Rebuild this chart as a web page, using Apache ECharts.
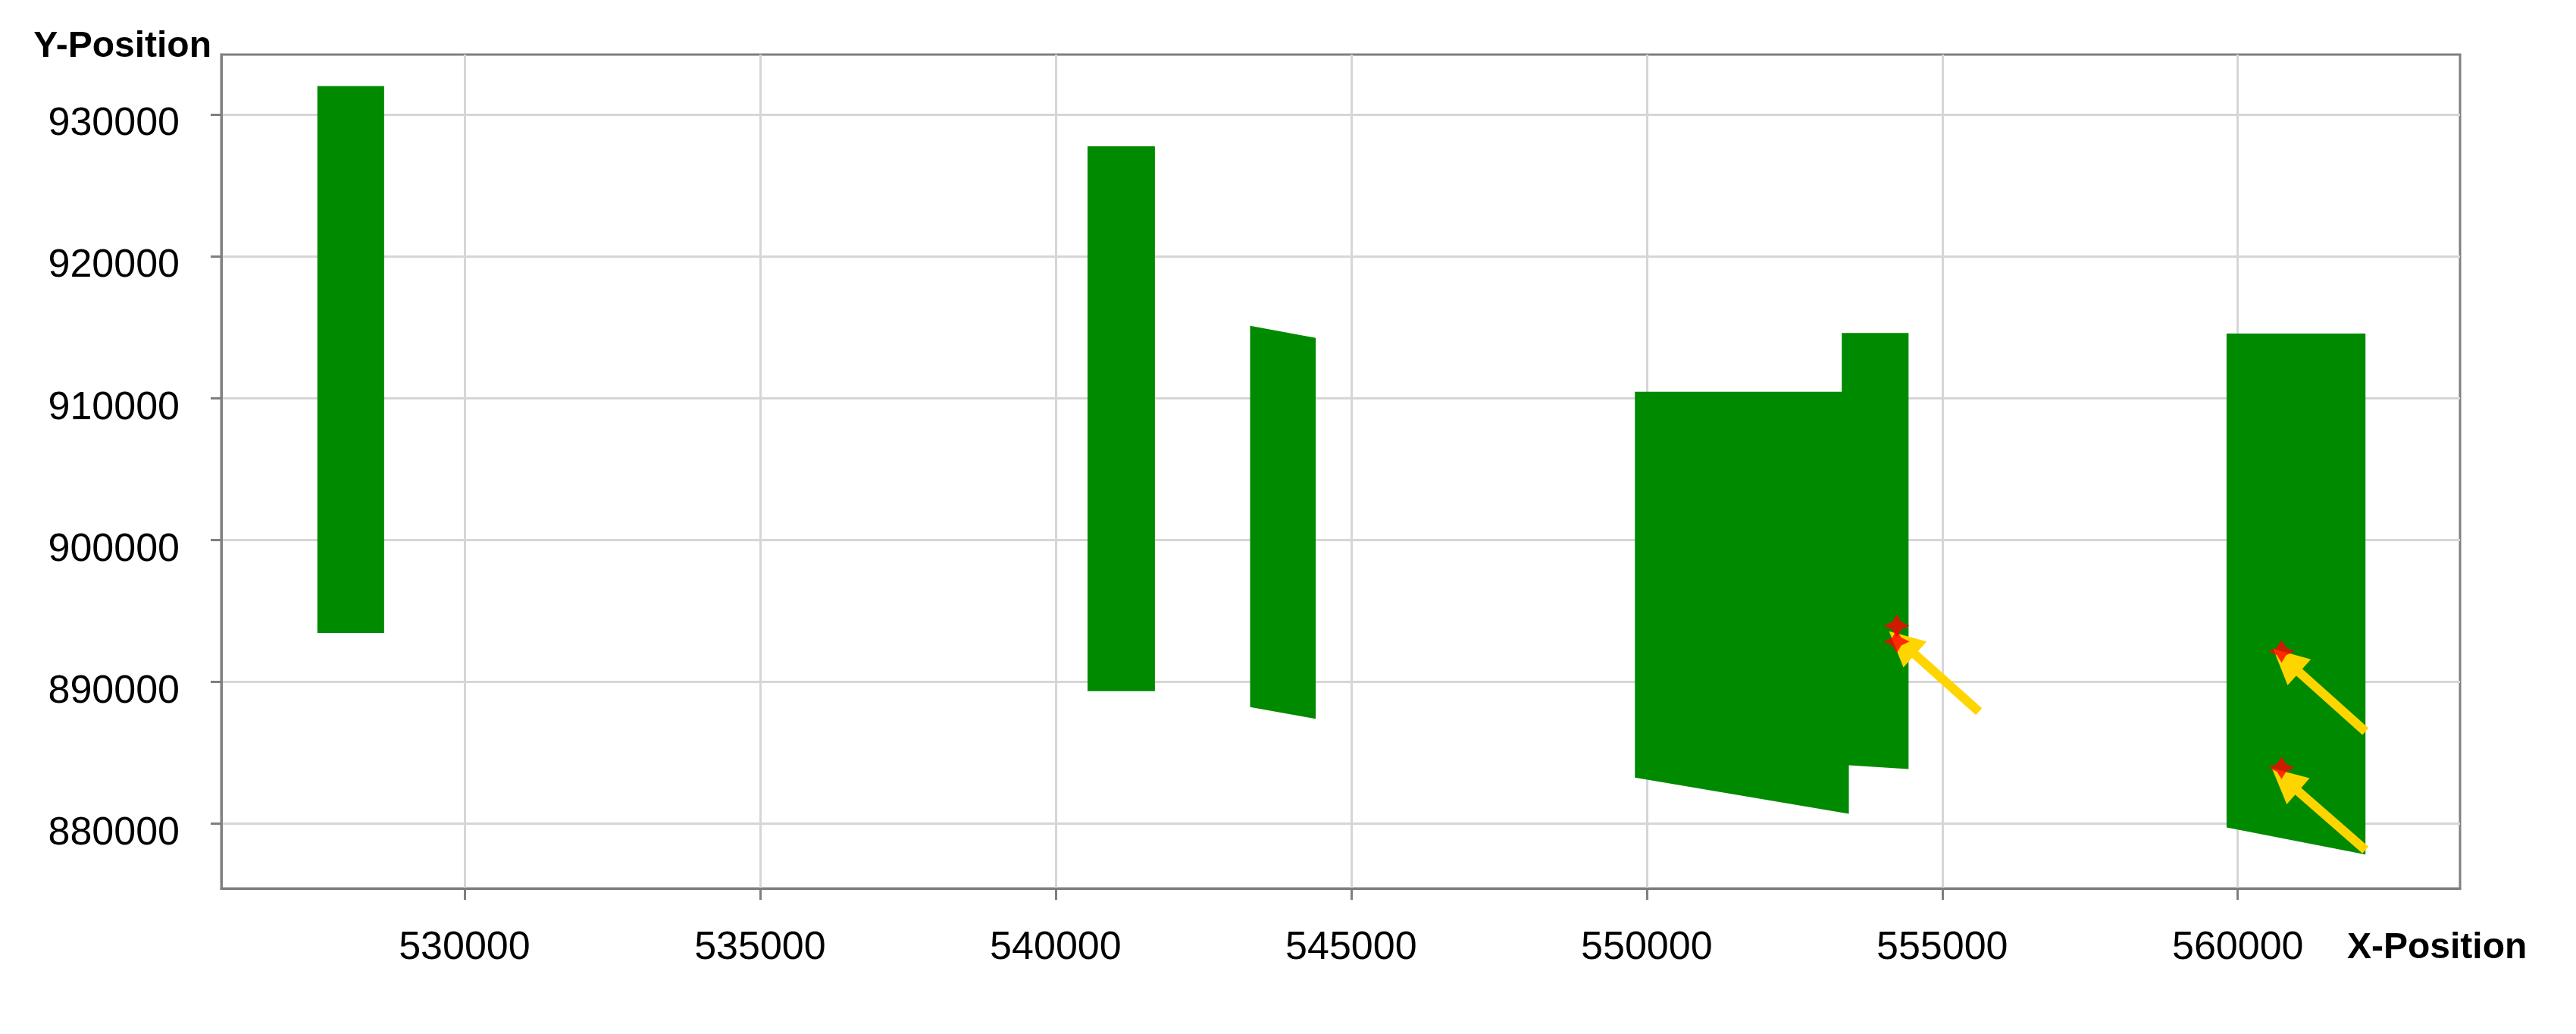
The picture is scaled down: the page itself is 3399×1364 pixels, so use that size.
<!DOCTYPE html>
<html>
<head>
<meta charset="utf-8">
<title>X/Y Position</title>
<script src="https://cdn.jsdelivr.net/npm/echarts@6/dist/echarts.min.js"></script>
<style>
  html, body { margin: 0; padding: 0; background: #fff; }
  #chart { width: 3399px; height: 1364px; }
</style>
</head>
<body>
<div id="chart"></div>
<script>
// axis extents
var xMin = 525885, xMax = 563760
var yMin = 875440, yMax = 934220
var xTicks = [530000, 535000, 540000, 545000, 550000, 555000, 560000]
var yTicks = [880000, 890000, 900000, 910000, 920000, 930000]

// green covered areas, outline vertices [x, y], clockwise from top-left
var blockA = [[527510, 932000], [528640, 932000], [528640, 893450], [527510, 893450]]
var blockB = [[540540, 927750], [541680, 927750], [541680, 889350], [540540, 889350]]
var blockC = [[543290, 915100], [544400, 914250], [544400, 887400], [543290, 888230]]
var blockD = [[549800, 910450], [553300, 910450], [553300, 914600], [554430, 914600],
              [554430, 883850], [553420, 884120], [553420, 880700], [549800, 883250]]
var blockE = [[559810, 914560], [562160, 914560], [562160, 877830], [559810, 879740]]
var blocks = [blockA, blockB, blockC, blockD, blockE]

// red markers
var markX = [554230, 554230, 560740, 560740]
var markY = [893950, 892850, 892150, 883950]

// yellow arrows, tail -> head
var arrowTail = [[555620, 887900], [562160, 886500], [562160, 878150]]
var arrowHead = [[554320, 892750], [560820, 891500], [560800, 883100]]

var green = '#008a00'
var axisGray = '#7f7f7f'
var labelFont = 'Liberation Sans'

var chart = echarts.init(document.getElementById('chart'))

function renderBlock(params, api) {
  var pts = blocks[params.dataIndex].map(function (p) { return api.coord(p) })
  return {
    type: 'polygon',
    shape: { points: pts },
    style: { fill: green }
  }
}

function plain(v) { return String(v) }

chart.setOption({
  backgroundColor: '#fff',
  animation: false,
  grid: {
    left: 292, top: 72, width: 2954, height: 1100,
    show: true, borderColor: axisGray, borderWidth: 3,
    outerBoundsMode: 'none'
  },
  xAxis: {
    type: 'value', min: xMin, max: xMax, splitNumber: 8,
    axisLine: { show: true, lineStyle: { color: axisGray, width: 3 } },
    axisTick: { show: true, length: 15, customValues: xTicks, lineStyle: { color: axisGray, width: 3 } },
    axisLabel: { customValues: xTicks, formatter: plain, margin: 53, fontSize: 52, color: '#000', fontFamily: labelFont },
    splitLine: { show: true, lineStyle: { color: '#d6d6d6', width: 3 } }
  },
  yAxis: {
    type: 'value', min: yMin, max: yMax, splitNumber: 6,
    axisLine: { show: true, lineStyle: { color: axisGray, width: 3 } },
    axisTick: { show: true, length: 14, customValues: yTicks, lineStyle: { color: axisGray, width: 3 } },
    // labels sit a little below their grid lines
    axisLabel: { customValues: yTicks, formatter: plain, margin: 55, fontSize: 52, color: '#000', fontFamily: labelFont, verticalAlign: 'top', lineHeight: 26 },
    splitLine: { show: true, lineStyle: { color: '#d6d6d6', width: 3 } }
  },
  graphic: [
    {
      type: 'text', x: 279, y: 62, z: 10,
      style: { text: 'Y-Position', font: 'bold 48px "Liberation Sans"', fill: '#000', align: 'right', verticalAlign: 'middle' }
    },
    {
      type: 'text', x: 3097, y: 1251, z: 10,
      style: { text: 'X-Position', font: 'bold 48px "Liberation Sans"', fill: '#000', align: 'left', verticalAlign: 'middle' }
    }
  ],
  series: [
    {
      type: 'custom',
      renderItem: renderBlock,
      data: blocks.map(function (b, i) { return [b[0][0], b[0][1], i] }),
      encode: { x: 0, y: 1 },
      z: 2
    },
    {
      type: 'lines',
      coordinateSystem: 'cartesian2d',
      symbol: ['none', 'triangle'],
      symbolSize: 46,
      lineStyle: { color: '#ffd500', width: 12, opacity: 1, curveness: 0 },
      data: arrowTail.map(function (t, i) { return { coords: [t, arrowHead[i]] } }),
      z: 3
    },
    {
      type: 'scatter',
      symbol: 'path://M0,-10 L3.5,-3.5 L10,0 L3.5,3.5 L0,10 L-3.5,3.5 L-10,0 L-3.5,-3.5 Z',
      symbolSize: [34, 30],
      itemStyle: { color: '#ff0000' },
      data: markX.map(function (x, i) { return [x, markY[i]] }),
      z: 4
    }
  ]
})
</script>
</body>
</html>
